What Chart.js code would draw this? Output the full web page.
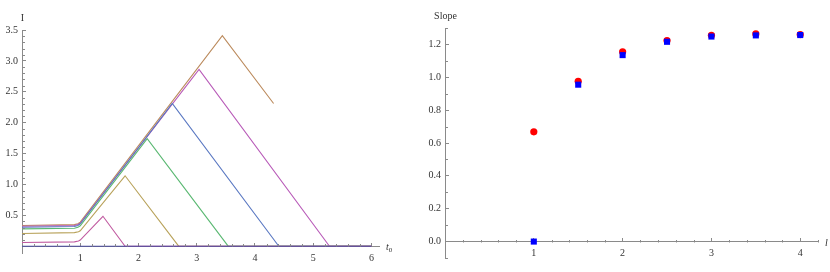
<!DOCTYPE html>
<html>
<head>
<meta charset="utf-8">
<script src="https://cdn.jsdelivr.net/npm/chart.js@4/dist/chart.umd.min.js"></script>
<style>
    html, body { margin: 0; padding: 0; background: #fff; }
    .panel { position: absolute; top: 0; width: 415px; height: 272px; }
    #left { left: 0; }
    #right { left: 415px; }
</style>
</head>
<body>
<div class="panel" id="left"><canvas id="currentChart" width="415" height="272"></canvas></div>
<div class="panel" id="right"><canvas id="slopeChart" width="415" height="272"></canvas></div>
<script>
// Left panel: I versus t0, one curve per l
const t0Navy = [0, 6];
const iNavy = [0, 0];
const t0Magenta = [0, 0.9, 0.97, 1.0, 1.39, 1.77, 6];
const iMagenta = [0.06, 0.07, 0.085, 0.10, 0.485, 0, 0];
const t0Olive = [0, 0.9, 0.97, 1.0, 1.77, 2.69, 6];
const iOlive = [0.205, 0.22, 0.235, 0.25, 1.14, 0, 0];
const t0Green = [0, 0.9, 0.96, 1.0, 2.15, 3.54, 6];
const iGreen = [0.28, 0.29, 0.305, 0.33, 1.74, 0, 0];
const t0Blue = [0, 0.9, 0.96, 1.0, 2.58, 4.41, 6];
const iBlue = [0.307, 0.32, 0.335, 0.36, 2.31, 0, 0];
const t0Purple = [0, 0.9, 0.96, 1.0, 3.04, 5.28, 6];
const iPurple = [0.324, 0.335, 0.35, 0.37, 2.86, 0, 0];
const t0Brown = [0, 0.9, 0.96, 1.0, 3.44, 4.32];
const iBrown = [0.335, 0.35, 0.365, 0.39, 3.41, 2.31];

const leftXTicks = [1, 2, 3, 4, 5, 6];
const leftYTicks = [0.5, 1.0, 1.5, 2.0, 2.5, 3.0, 3.5];

// Right panel: slope versus l
const lValues = [1, 1.5, 2, 2.5, 3, 3.5, 4];
const slopeRed = [0.668, 0.976, 1.155, 1.224, 1.256, 1.264, 1.26];
const slopeBlue = [0, 0.955, 1.135, 1.216, 1.248, 1.255, 1.257];

const rightXTicks = [1, 2, 3, 4];
const rightYTicks = [0, 0.2, 0.4, 0.6, 0.8, 1.0, 1.2];

const axisColor = '#8a8a8a';
const labelColor = '#333';
const serif = '"Liberation Serif", "DejaVu Serif", serif';

// minor ticks between the labelled ones
function minorBetween(from, to, step, majorStep) {
    const out = [];
    const n = Math.round((to - from) / step);
    for (let i = 0; i <= n; i++) {
        const v = from + i * step;
        const r = v / majorStep;
        if (Math.abs(r - Math.round(r)) > 1e-6) out.push(v);
    }
    return out;
}

function toPoints(xs, ys) {
    return xs.map((x, i) => ({ x: x, y: ys[i] }));
}

// draws short minor ticks and the axis titles at the ends of the axes
const axisExtras = {
    id: 'axisExtras',
    afterDraw(chart, args, opts) {
        const ctx = chart.ctx;
        const xs = chart.scales.x;
        const ys = chart.scales.y;
        const x0 = Math.round(xs.getPixelForValue(0)) + 0.5;
        const y0 = Math.round(ys.getPixelForValue(0)) + 0.5;
        ctx.save();
        ctx.strokeStyle = axisColor;
        ctx.lineWidth = 1;
        ctx.beginPath();
        opts.minorX.forEach(v => {
            const px = Math.round(xs.getPixelForValue(v)) + 0.5;
            ctx.moveTo(px, y0);
            ctx.lineTo(px, y0 - 2.5);
        });
        opts.minorY.forEach(v => {
            const py = Math.round(ys.getPixelForValue(v)) + 0.5;
            ctx.moveTo(x0, py);
            ctx.lineTo(x0 + 2.5, py);
        });
        ctx.stroke();

        ctx.fillStyle = labelColor;
        ctx.textBaseline = 'middle';
        ctx.textAlign = 'center';
        ctx.font = '10px ' + serif;
        ctx.fillText(opts.yTitle, x0, chart.chartArea.top - 12);

        const xEnd = xs.getPixelForValue(xs.max);
        ctx.textAlign = 'left';
        ctx.font = 'italic 10px ' + serif;
        ctx.fillText(opts.xTitle, xEnd + 7, y0 + 1);
        if (opts.xSub) {
            const w = ctx.measureText(opts.xTitle).width;
            ctx.font = '7px ' + serif;
            ctx.fillText(opts.xSub, xEnd + 7 + w, y0 + 4);
        }
        ctx.restore();
    }
};

function axisOptions(min, max, ticks, fmt, isX, fitWidth) {
    const opts = {
        type: 'linear',
        min: min,
        max: max,
        afterBuildTicks: s => { s.ticks = ticks.map(v => ({ value: v })); },
        border: { color: axisColor, width: 1 },
        grid: { drawOnChartArea: false, drawTicks: true, tickLength: -4, color: axisColor },
        ticks: {
            color: labelColor,
            font: { family: serif, size: 10 },
            maxRotation: 0,
            autoSkip: false,
            padding: isX ? 10 : 8,
            callback: fmt
        }
    };
    if (isX) {
        opts.position = { y: 0 };
    } else {
        opts.position = 'left';
        opts.afterFit = s => { s.width = fitWidth; };
    }
    return opts;
}

const lineDefaults = { borderWidth: 1.1, pointRadius: 0, tension: 0, fill: false };

new Chart(document.getElementById('currentChart'), {
    type: 'line',
    data: {
        datasets: [
            { data: toPoints(t0Navy, iNavy), borderColor: '#4a4a9e', ...lineDefaults },
            { data: toPoints(t0Magenta, iMagenta), borderColor: '#c05aa0', ...lineDefaults },
            { data: toPoints(t0Olive, iOlive), borderColor: '#b8a25a', ...lineDefaults },
            { data: toPoints(t0Green, iGreen), borderColor: '#5ab872', ...lineDefaults },
            { data: toPoints(t0Blue, iBlue), borderColor: '#5a78c2', ...lineDefaults },
            { data: toPoints(t0Purple, iPurple), borderColor: '#b85ab8', ...lineDefaults },
            { data: toPoints(t0Brown, iBrown), borderColor: '#bb8a5c', ...lineDefaults }
        ]
    },
    options: {
        responsive: false,
        animation: false,
        devicePixelRatio: 1,
        layout: { padding: { top: 30, bottom: 19, left: 0, right: 36 } },
        plugins: {
            legend: { display: false },
            tooltip: { enabled: false },
            axisExtras: {
                minorX: minorBetween(0, 6, 0.2, 1),
                minorY: minorBetween(0, 3.5, 0.1, 0.5),
                yTitle: 'I',
                xTitle: 't',
                xSub: '0'
            }
        },
        scales: {
            x: axisOptions(0, 6.13, leftXTicks, v => String(v), true),
            y: axisOptions(-0.11, 3.5, leftYTicks, v => v.toFixed(1), false, 22)
        }
    },
    plugins: [axisExtras]
});

new Chart(document.getElementById('slopeChart'), {
    type: 'scatter',
    data: {
        datasets: [
            { data: toPoints(lValues, slopeBlue), backgroundColor: '#0000ff', pointStyle: 'rect', pointRadius: 4.3, borderWidth: 0 },
            { data: toPoints(lValues, slopeRed), backgroundColor: '#ff0000', pointStyle: 'circle', pointRadius: 3.6, borderWidth: 0 }
        ]
    },
    options: {
        responsive: false,
        animation: false,
        devicePixelRatio: 1,
        layout: { padding: { top: 28, bottom: 12, left: 0, right: 12 } },
        plugins: {
            legend: { display: false },
            tooltip: { enabled: false },
            axisExtras: {
                minorX: minorBetween(0, 4.2, 0.2, 1),
                minorY: minorBetween(-0.1, 1.3, 0.1, 0.2),
                yTitle: 'Slope',
                xTitle: 'l'
            }
        },
        scales: {
            x: axisOptions(0, 4.2, rightXTicks, v => String(v), true),
            y: axisOptions(-0.1, 1.3, rightYTicks, v => v.toFixed(1), false, 30)
        }
    },
    plugins: [axisExtras]
});
</script>
</body>
</html>
